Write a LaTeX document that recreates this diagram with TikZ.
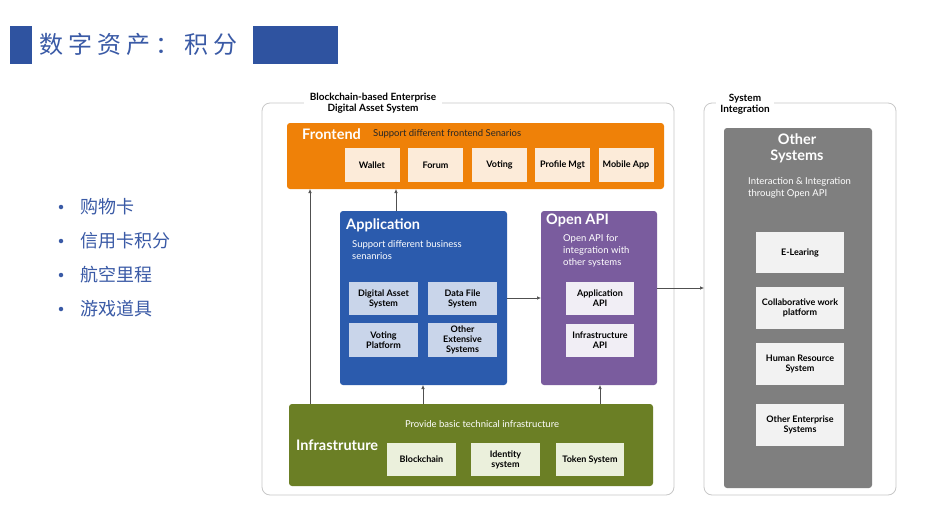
\documentclass[tikz,border=0pt]{standalone}
\usepackage{fontspec}
\setmainfont{Lato}
\newfontfamily\cjk{Noto Sans CJK SC}
\newfontfamily\cjktitle[LetterSpace=21]{Noto Sans CJK SC}
\usetikzlibrary{arrows.meta}
\definecolor{titleblue}{HTML}{2F53A0}
\definecolor{titletext}{HTML}{3A5AA6}
\definecolor{orangeF}{HTML}{EF8108}
\definecolor{orangeSub}{HTML}{FCEBD9}
\definecolor{appBlue}{HTML}{2B5BAD}
\definecolor{appSub}{HTML}{C9D5EA}
\definecolor{apiPurple}{HTML}{7A5C9E}
\definecolor{apiSub}{HTML}{F1EEF5}
\definecolor{infraGreen}{HTML}{6B7F25}
\definecolor{infraSub}{HTML}{EBF0DC}
\definecolor{othGray}{HTML}{7F7F7F}
\definecolor{othSub}{HTML}{F2F2F2}
\definecolor{lineGray}{HTML}{505050}
\definecolor{outerLine}{HTML}{C8C8C8}
\tikzset{
  outerbox/.style={draw=outerLine, line width=0.8pt, rounded corners=8pt},
  layer/.style={rounded corners=3pt, draw=none},
  subbox/.style={draw=none, align=center, font=\fontsize{9}{10}\selectfont\bfseries, inner sep=1pt},
  bigtitle/.style={font=\fontsize{14.5}{16}\selectfont\bfseries, text=white, inner sep=0pt},
  desc/.style={font=\fontsize{9.5}{12}\selectfont, text=white, inner sep=0pt, align=left},
  conn/.style={draw=lineGray, line width=0.6pt, -{Latex[length=4pt,width=3.5pt]}},
  bullettext/.style={font=\cjk\fontsize{18}{20}\selectfont, text=titletext, anchor=west, inner sep=0pt},
  bulletdot/.style={circle, fill=titletext, inner sep=0pt, minimum size=4.5pt},
}
\begin{document}
\begin{tikzpicture}[x=1pt,y=-1pt]
\useasboundingbox (0,0) rectangle (930,512);
\fill[white] (0,0) rectangle (930,512);

% title
\fill[titleblue] (10,26) rectangle (32,64);
\fill[titleblue] (253,26) rectangle (338,64);
\node[font=\cjktitle\fontsize{24}{26}\selectfont, text=titletext, anchor=west, inner sep=0pt] (title) at (39,44) {数字资产：积分};

% bullets
\foreach \i/\t/\yy in {1/购物卡/207, 2/信用卡积分/241, 3/航空里程/275, 4/游戏道具/309}{
  \node[bulletdot] (bd\i) at (61,\yy) {};
  \node[bullettext] (bt\i) at (80,\yy) {\t};
}

% outer boxes
\draw[outerbox] (262,103) rectangle (674,495);
\node[fill=white, font=\fontsize{10}{11.5}\selectfont\bfseries, align=center, inner xsep=6pt, inner ysep=1pt] (outer1title) at (373,103) {Blockchain-based Enterprise\\Digital Asset System};
\draw[outerbox] (704,103) rectangle (896,495);
\node[fill=white, font=\fontsize{10}{11.5}\selectfont\bfseries, align=center, inner xsep=4pt, inner ysep=1pt] (outer2title) at (745,104) {System\\Integration};

% Frontend
\fill[layer, fill=orangeF] (287,123) rectangle (664,189);
\coordinate (feS1) at (310,189);
\coordinate (feS2) at (396,189);
\node[bigtitle, anchor=west] (fetitle) at (302,134) {Frontend};
\node[desc, text=black!85, anchor=west] (fedesc) at (373,134) {Support different frontend Senarios};
\foreach \n/\t/\cx in {wallet/Wallet/372, forum/Forum/435.5, voting/Voting/499.5, profile/Profile Mgt/562.5, mobile/Mobile App/626}{
  \node[subbox, fill=orangeSub, minimum width=55pt, minimum height=34pt] (\n) at (\cx,165) {\t};
}

% Application
\fill[layer, fill=appBlue] (340,211) rectangle (507,385);
\node[bigtitle, anchor=west] (apptitle) at (346,225) {Application};
\node[desc, anchor=north west] (appdesc) at (352,240) {Support different business\\senanrios};
\node[subbox, fill=appSub, minimum width=69pt, minimum height=33pt] (das) at (383.5,298.5) {Digital Asset\\System};
\node[subbox, fill=appSub, minimum width=69pt, minimum height=33pt] (dfs) at (462.5,298.5) {Data File\\System};
\node[subbox, fill=appSub, minimum width=69pt, minimum height=34pt] (vp) at (383.5,340) {Voting\\Platform};
\node[subbox, fill=appSub, minimum width=69pt, minimum height=34pt] (oes) at (462.5,340) {Other\\Extensive\\Systems};

% Open API
\fill[layer, fill=apiPurple] (541,211) rectangle (657,385);
\node[bigtitle, anchor=west] (apititle) at (546,220) {Open API};
\node[desc, anchor=north west] (apidesc) at (563,234) {Open API for\\integration with\\other systems};
\node[subbox, fill=apiSub, minimum width=68pt, minimum height=33pt] (appapi) at (600,298.5) {Application\\API};
\node[subbox, fill=apiSub, minimum width=68pt, minimum height=33pt] (infapi) at (600,340.5) {Infrastructure\\API};

% Infrastructure
\fill[layer, fill=infraGreen] (289,404) rectangle (653,486);
\node[desc, anchor=center] (infdesc) at (482,424) {Provide basic technical infrastructure};
\node[bigtitle, anchor=west] (inftitle) at (296,445) {Infrastruture};
\node[subbox, fill=infraSub, minimum width=69pt, minimum height=33pt] (bc) at (421.5,459.5) {Blockchain};
\node[subbox, fill=infraSub, minimum width=69pt, minimum height=33pt] (ids) at (505.5,459.5) {Identity\\system};
\node[subbox, fill=infraSub, minimum width=68pt, minimum height=33pt] (tok) at (590,459.5) {Token System};

% Other systems
\fill[layer, fill=othGray] (724,128) rectangle (872,488);
\node[bigtitle, align=center] (othtitle) at (797,148) {Other\\Systems};
\node[desc, anchor=north west] (othdesc) at (748,177) {Interaction \& Integration\\throught Open API};
\node[subbox, fill=othSub, minimum width=88pt, minimum height=41pt] (elearn) at (800,252.5) {E-Learing};
\node[subbox, fill=othSub, minimum width=88pt, minimum height=42pt] (collab) at (800,308) {Collaborative work\\platform};
\node[subbox, fill=othSub, minimum width=88pt, minimum height=42pt] (hr) at (800,364) {Human Resource\\System};
\node[subbox, fill=othSub, minimum width=88pt, minimum height=42pt] (oent) at (800,425) {Other Enterprise\\Systems};

% connectors
\coordinate (infN1) at (310,404);
\coordinate (infN2) at (423,404);
\coordinate (infN3) at (600,404);
\coordinate (appN) at (396,211);
\coordinate (appS) at (423,385);
\coordinate (apiS) at (600,385);
\coordinate (appE) at (507,298);
\coordinate (apiW) at (541,298);
\coordinate (apiE) at (657,288);
\coordinate (sysW) at (704,288);
\draw[conn] (infN1) -- (feS1);
\draw[conn] (appN) -- (feS2);
\draw[conn] (infN2) -- (appS);
\draw[conn] (infN3) -- (apiS);
\draw[conn] (appE) -- (apiW);
\draw[conn] (apiE) -- (sysW);
\end{tikzpicture}
\end{document}
